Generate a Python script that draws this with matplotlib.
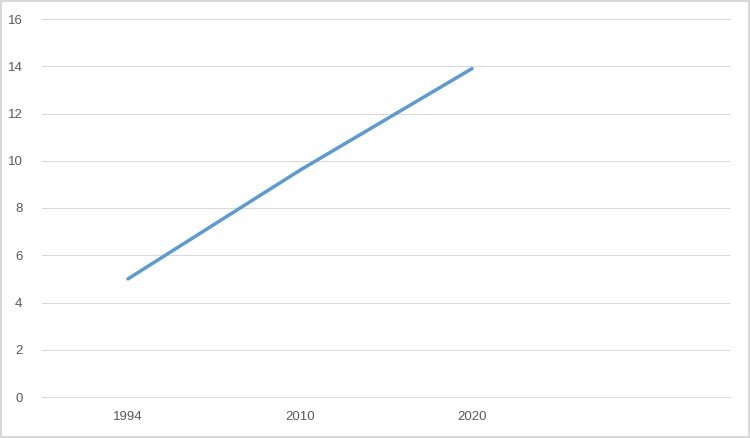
import numpy as np
import matplotlib.pyplot as plt

categories = ['1994', '2010', '2020', '']
values = [5.0, 9.6, 13.9, np.nan]
y_ticks = [0, 2, 4, 6, 8, 10, 12, 14, 16]

plt.rcParams['font.family'] = ['Liberation Sans', 'DejaVu Sans']

fig = plt.figure(figsize=(7.5, 4.38), dpi=100)
fig.patch.set_facecolor('white')
fig.patch.set_edgecolor('#d9d9d9')
fig.patch.set_linewidth(1.5)

# plot area in pixels: x 42..730, y 19..397
ax = fig.add_axes([42 / 750, 1 - 397 / 438, (730 - 42) / 750, (397 - 19) / 438])

x = np.arange(len(categories))
ax.plot(x, values, color='#5b9bd5', linewidth=2.5, solid_capstyle='round')

ax.set_xlim(-0.5, len(categories) - 0.5)
ax.set_ylim(0, 16)
ax.set_xticks(x)
ax.set_xticklabels(categories)
ax.set_yticks(y_ticks)

ax.grid(axis='y', color='#d9d9d9', linewidth=0.75)
ax.set_axisbelow(True)
for s in ['top', 'right', 'left']:
    ax.spines[s].set_visible(False)
ax.spines['bottom'].set_color('#d9d9d9')
ax.spines['bottom'].set_linewidth(0.75)

ax.tick_params(axis='both', length=0, labelsize=9.5, colors='#595959')
ax.tick_params(axis='y', pad=14)
ax.tick_params(axis='x', pad=10)

fig.savefig('out.png', dpi=100, edgecolor=fig.get_edgecolor())
